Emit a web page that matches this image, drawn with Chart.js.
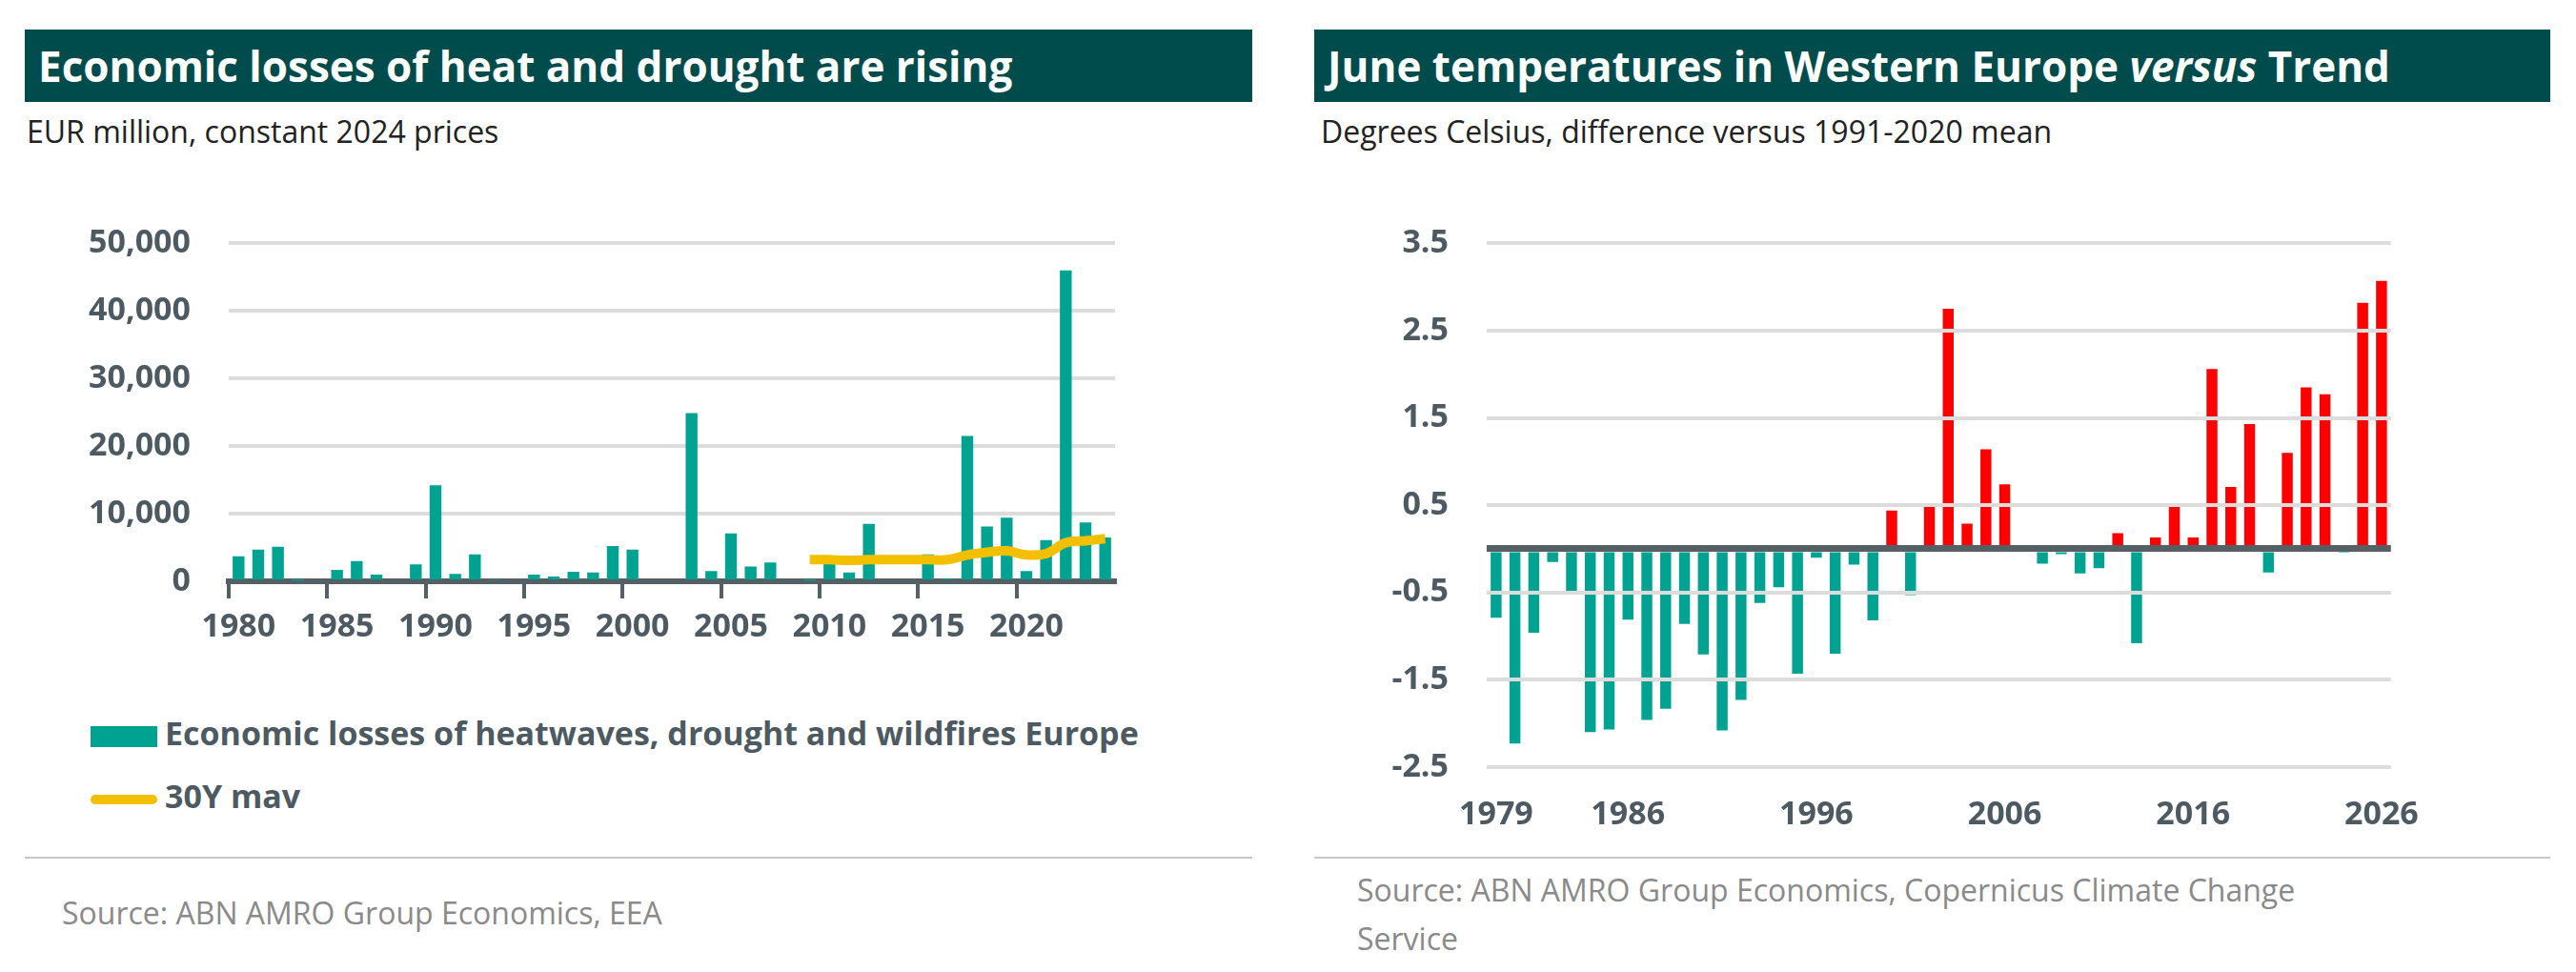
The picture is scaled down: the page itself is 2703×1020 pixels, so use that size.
<!DOCTYPE html>
<html>
<head>
<meta charset="utf-8">
<script src="https://cdn.jsdelivr.net/npm/chart.js@4"></script>
<style>
body { margin: 0; width: 2703px; height: 1020px; background: #fff; position: relative; font-family: "Open Sans", sans-serif; overflow: hidden; }
.title { position: absolute; top: 31px; height: 76px; background: #004b4b; color: #fff; font: bold 44px "Open Sans", sans-serif; line-height: 76px; padding-left: 14px; box-sizing: border-box; }
.sub { position: absolute; top: 116px; font-size: 32px; color: #222; }
.sep { position: absolute; top: 899px; height: 2px; background: #c8c8c8; }
.src { position: absolute; font-size: 32px; color: #8a8a8a; line-height: 51px; }
.box { position: absolute; }
.leg { position: absolute; left: 95px; font: bold 34px "Open Sans", sans-serif; color: #4d5a62; }
.leg span { display: inline-block; vertical-align: middle; margin-right: 8px; }
</style>
</head>
<body>
<div class="title" style="left:26px;width:1288px;">Economic losses of heat and drought are rising</div>
<div class="sub" style="left:28px;">EUR million, constant 2024 prices</div>
<div class="box" style="left:90px;top:195px;width:1090px;height:495px;"><canvas id="lossChart"></canvas></div>
<div class="leg" style="top:746px;"><span style="width:70px;height:22px;background:#00a392;"></span>Economic losses of heatwaves, drought and wildfires Europe</div>
<div class="leg" style="top:812px;"><span style="width:70px;height:10px;background:#f2c000;border-radius:5px;"></span>30Y mav</div>
<div class="sep" style="left:26px;width:1288px;"></div>
<div class="src" style="left:65px;top:932px;">Source: ABN AMRO Group Economics, EEA</div>

<div class="title" style="left:1379px;width:1297px;">June temperatures in Western Europe <i>versus</i> Trend</div>
<div class="sub" style="left:1386px;">Degrees Celsius, difference versus 1991-2020 mean</div>
<div class="box" style="left:1440px;top:195px;width:1120px;height:690px;"><canvas id="tempChart"></canvas></div>
<div class="sep" style="left:1379px;width:1297px;"></div>
<div class="src" style="left:1424px;top:908px;">Source: ABN AMRO Group Economics, Copernicus Climate Change<br>Service</div>

<script>
/* ================= DATA ================= */
const lossYears = [];
for (let y = 1980; y <= 2024; y++) lossYears.push(String(y));

const lossValues = [
    3700, 4700, 5100, 100, 0, 1700, 3000, 1000, 0, 2500,
    14200, 1100, 4000, 200, 0, 1000, 700, 1400, 1300, 5200,
    4700, 0, 0, 24900, 1500, 7100, 2200, 2800, 0, 100,
    2800, 1300, 8500, 0, 0, 4000, 400, 21500, 8100, 9400,
    1500, 6100, 46000, 8700, 6500
];

// 30Y moving average, only shown from 2009
const mavValues = [
    null, null, null, null, null, null, null, null, null, null,
    null, null, null, null, null, null, null, null, null, null,
    null, null, null, null, null, null, null, null, null, 3200,
    3200, 3100, 3200, 3200, 3200, 3200, 3200, 3900, 4300, 4500,
    3900, 4100, 5700, 6000, 6300
];

const lossTicks = [0, 10000, 20000, 30000, 40000, 50000];

const tempYears = [];
for (let y = 1979; y <= 2026; y++) tempYears.push(String(y));

const tempValues = [
    -0.79, -2.23, -0.96, -0.15, -0.48, -2.10, -2.07, -0.81, -1.96, -1.83,
    -0.86, -1.21, -2.08, -1.73, -0.62, -0.44, -1.43, -0.10, -1.20, -0.18,
    -0.82, 0.44, -0.53, 0.50, 2.75, 0.29, 1.14, 0.74, 0.01, -0.17,
    -0.06, -0.28, -0.22, 0.18, -1.08, 0.13, 0.52, 0.13, 2.06, 0.71,
    1.43, -0.27, 1.10, 1.85, 1.77, -0.03, 2.82, 3.07
];

const tempTicks = [-2.5, -1.5, -0.5, 0, 0.5, 1.5, 2.5, 3.5];
const tempLabelYears = ["1979", "1986", "1996", "2006", "2016", "2026"];

/* ================= STYLE ================= */
const TEAL = "#00a392";
const RED = "#ff0000";
const YELLOW = "#f2c000";
const AXIS = "#555f66";
const GRID = "#dcdcdc";
const tickFont = { family: "Open Sans", size: 34, weight: "bold" };

Chart.defaults.animation = false;
Chart.defaults.color = "#4d5a62";

/* ================= LEFT CHART ================= */
new Chart(document.getElementById("lossChart"), {
    data: {
        labels: lossYears,
        datasets: [
            {
                type: "line",
                data: mavValues,
                borderColor: YELLOW,
                borderWidth: 10,
                pointRadius: 0,
                tension: 0.4,
                spanGaps: false
            },
            {
                type: "bar",
                data: lossValues,
                backgroundColor: TEAL,
                barPercentage: 0.6,
                categoryPercentage: 1
            }
        ]
    },
    options: {
        responsive: true,
        maintainAspectRatio: false,
        layout: { padding: { top: 26, right: 10 } },
        plugins: { legend: { display: false }, tooltip: { enabled: false } },
        scales: {
            x: {
                offset: true,
                afterFit: s => { s.height = 80; },
                border: { color: AXIS, width: 6 },
                grid: {
                    offset: true,
                    drawOnChartArea: false,
                    tickLength: 18,
                    lineWidth: 4,
                    color: ctx => (ctx.index % 5 === 0 ? AXIS : "rgba(0,0,0,0)")
                },
                ticks: {
                    autoSkip: false,
                    maxRotation: 0,
                    padding: 10,
                    font: tickFont,
                    callback: function (v, i) { return i % 5 === 0 ? lossYears[i] : ""; }
                }
            },
            y: {
                min: 0,
                max: 50000,
                afterFit: s => { s.width = 150; },
                afterBuildTicks: s => { s.ticks = lossTicks.map(v => ({ value: v })); },
                border: { display: false },
                grid: { color: GRID, lineWidth: 4, drawTicks: false },
                ticks: { padding: 40, font: tickFont }
            }
        }
    }
});

/* ================= RIGHT CHART ================= */
new Chart(document.getElementById("tempChart"), {
    type: "bar",
    data: {
        labels: tempYears,
        datasets: [{
            data: tempValues,
            backgroundColor: tempValues.map(v => (v > 0 ? RED : TEAL)),
            barPercentage: 0.58,
            categoryPercentage: 1
        }]
    },
    options: {
        responsive: true,
        maintainAspectRatio: false,
        layout: { padding: { top: 26, right: 20 } },
        plugins: { legend: { display: false }, tooltip: { enabled: false } },
        scales: {
            x: {
                offset: true,
                afterFit: s => { s.height = 80; },
                border: { display: false },
                grid: { display: false },
                ticks: {
                    autoSkip: false,
                    maxRotation: 0,
                    padding: 22,
                    font: tickFont,
                    callback: function (v, i) {
                        return tempLabelYears.includes(tempYears[i]) ? tempYears[i] : "";
                    }
                }
            },
            y: {
                min: -2.5,
                max: 3.5,
                afterFit: s => { s.width = 120; },
                afterBuildTicks: s => { s.ticks = tempTicks.map(v => ({ value: v })); },
                border: { display: false },
                grid: {
                    drawTicks: false,
                    color: ctx => (ctx.tick && ctx.tick.value === 0 ? AXIS : GRID),
                    lineWidth: ctx => (ctx.tick && ctx.tick.value === 0 ? 7 : 4),
                    z: 1
                },
                ticks: {
                    padding: 40,
                    font: tickFont,
                    callback: v => (v === 0 ? "" : v.toFixed(1))
                }
            }
        }
    }
});
</script>
</body>
</html>
